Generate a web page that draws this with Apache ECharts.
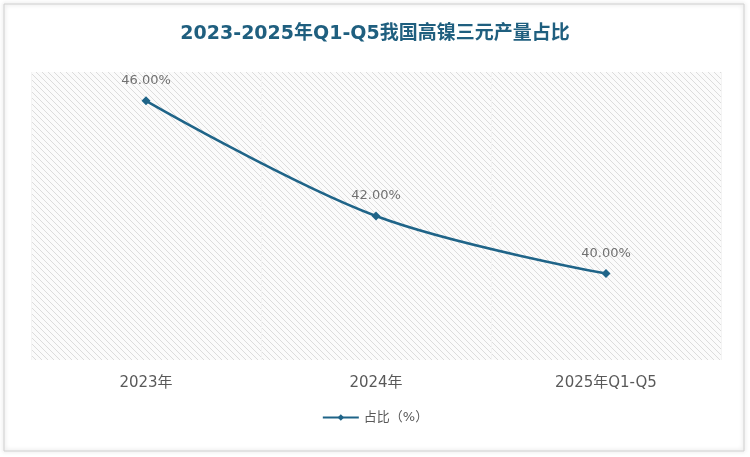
<!DOCTYPE html>
<html><head><meta charset="utf-8">
<script src="https://cdn.jsdelivr.net/npm/echarts@6/dist/echarts.min.js"></script>
<style>html,body{margin:0;padding:0;background:#fff}#c{width:750px;height:457px}</style>
</head><body><div id="c"></div>
<script>
const categories = ['2023年','2024年','2025年Q1-Q5'];
const values = [46.00, 42.00, 40.00];
const seriesName = '占比（%）';

const pc = document.createElement('canvas');
pc.width = 6; pc.height = 6;
const g = pc.getContext('2d');
g.fillStyle = '#fbfbfb'; g.fillRect(0,0,6,6);
g.strokeStyle = '#dcdcdc'; g.lineWidth = 1;
g.beginPath(); g.moveTo(0,0); g.lineTo(6,6); g.moveTo(-3,3); g.lineTo(3,9); g.moveTo(3,-3); g.lineTo(9,3); g.stroke();

const chart = echarts.init(document.getElementById('c'));
chart.setOption({
  backgroundColor:'#fff',
  title:{text:'2023-2025年Q1-Q5我国高镍三元产量占比',left:'center',top:20,
    textStyle:{fontFamily:'DejaVu Sans, Noto Sans CJK SC',fontSize:19,fontWeight:'bold',color:'#1f5f7f'}},
  graphic:[{type:'rect',shape:{x:4,y:4,width:740,height:447},style:{fill:'none',stroke:'#d0d0d0',lineWidth:1,shadowBlur:4,shadowColor:'rgba(0,0,0,0.25)'}}],
  grid:{left:31,right:29,top:72,bottom:97,show:true,borderWidth:0,backgroundColor:{image:pc,repeat:'repeat'}},
  legend:{bottom:28,left:'center',itemWidth:36,itemHeight:8,
    textStyle:{fontFamily:'DejaVu Sans, Noto Sans CJK SC',fontSize:13,color:'#595959'},data:[seriesName]},
  xAxis:{type:'category',data:categories,boundaryGap:true,
    axisLine:{show:false},axisTick:{show:false},
    splitLine:{show:true,lineStyle:{color:'#f4f4f4',width:1}},
    axisLabel:{margin:16,fontFamily:'DejaVu Sans, Noto Sans CJK SC',fontSize:15,color:'#595959'}},
  yAxis:{type:'value',min:37,max:47,show:false,splitLine:{show:false}},
  series:[{name:seriesName,type:'line',data:values,smooth:0.35,symbol:'diamond',symbolSize:9,
    lineStyle:{color:'#1f6488',width:2.5},itemStyle:{color:'#1f6488'},
    label:{show:true,position:'top',distance:9,formatter:p=>p.value.toFixed(2)+'%',
      fontFamily:'DejaVu Sans',fontSize:13,color:'#707070'}}]
});
</script></body></html>
